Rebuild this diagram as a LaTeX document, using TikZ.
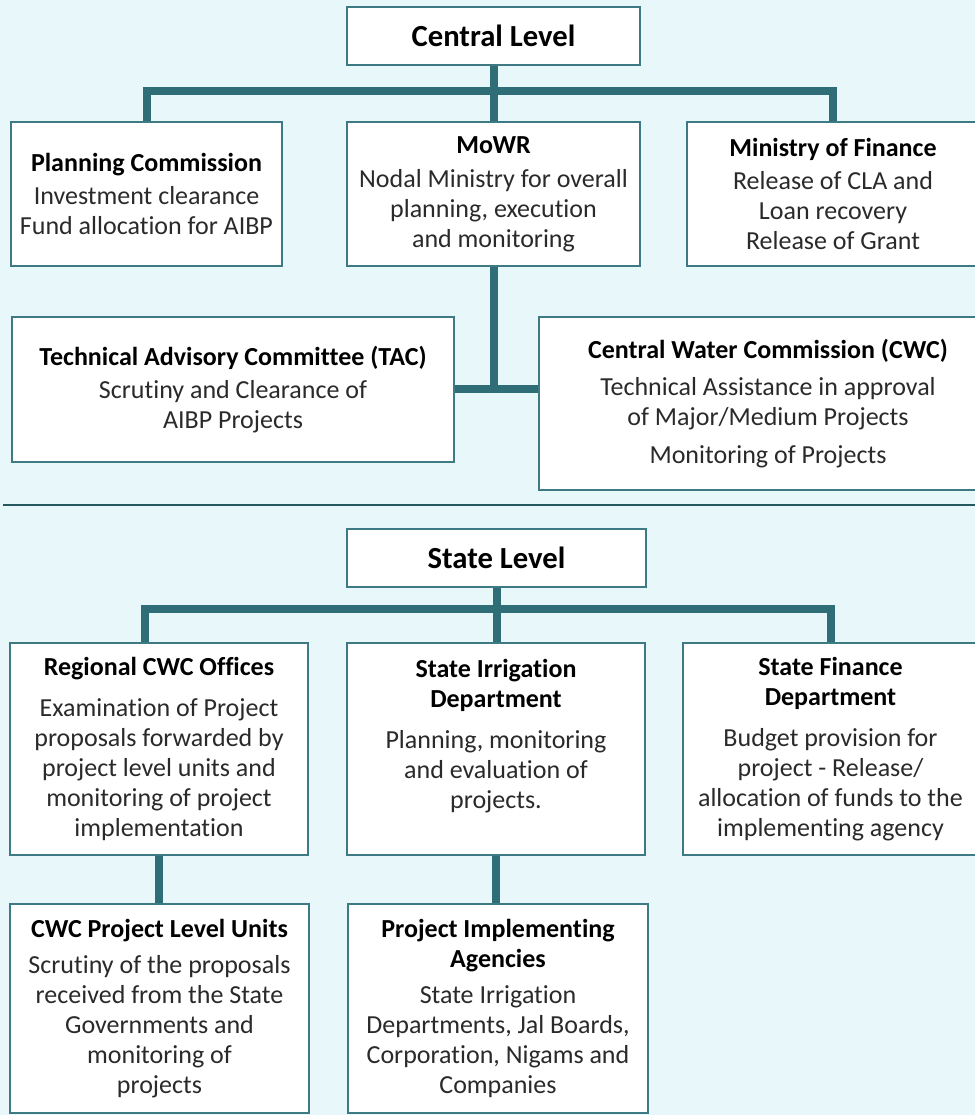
\documentclass[tikz,border=0pt]{standalone}
\usepackage{fontspec}
\setmainfont{Carlito}[Ligatures={NoCommon,NoRare,NoContextual}]
\usetikzlibrary{positioning}

\definecolor{bgcyan}{HTML}{E8F8FA}
\definecolor{tealline}{HTML}{2F6E77}
\definecolor{boxedge}{HTML}{3D7A84}
\definecolor{inktext}{HTML}{2A2A2A}

\tikzset{
  orgbox/.style={draw=boxedge, line width=1.4pt, fill=white, inner sep=0pt,
    align=center, text=inktext, font=\fontsize{19.5}{22.5}\selectfont},
  levelbox/.style={orgbox, font=\fontsize{23}{26}\selectfont\bfseries, text=black},
  boxsize/.style 2 args={minimum width=#1*0.75pt, minimum height=#2*0.75pt},
  link/.style={draw=tealline, line width=6pt},
  divider/.style={draw=tealline!80!black, line width=1.6pt}
}
\newcommand{\boxtitle}[1]{{\bfseries\color{black}#1}}

\begin{document}
\begin{tikzpicture}[x=0.75pt, y=-0.75pt]
  \useasboundingbox (0,0) rectangle (975,1115);
  \fill[bgcyan] (0,0) rectangle (975,1115);

  % central level
  \node[levelbox, boxsize={293}{58}] (central) at (493.5,36) {Central Level};
  \node[orgbox, boxsize={271}{144}] (plan) at (146.5,194)
    {\boxtitle{Planning Commission}\\[2pt] Investment clearance\\ Fund allocation for AIBP};
  \node[orgbox, boxsize={293}{144}] (mowr) at (493.5,194)
    {\boxtitle{MoWR}\\[3pt] Nodal Ministry for overall\\ planning, execution\\ and monitoring};
  \node[orgbox, boxsize={292}{144}] (fin) at (833,194)
    {\boxtitle{Ministry of Finance}\\[2pt] Release of CLA and\\ Loan recovery\\ Release of Grant};
  \node[orgbox, boxsize={442}{145}] (tac) at (233,389.5)
    {\boxtitle{Technical Advisory Committee (TAC)}\\[2pt] Scrutiny and Clearance of\\ AIBP Projects};
  \node[orgbox, boxsize={458}{173}] (cwc) at (768,403.5)
    {\boxtitle{Central Water Commission (CWC)}\\[5pt] Technical Assistance in approval\\
     of Major/Medium Projects\\[6pt] Monitoring of Projects};

  \draw[link] (plan.north) -- ++(0,-30) -| (fin.north);
  \draw[link] (central.south) -- (mowr.north);
  \draw[link] (mowr.south) -- ++(0,122) coordinate (mj);
  \draw[link] (tac.east |- mj) -- (cwc.west |- mj);

  \draw[divider] (3,505) -- (975,505);

  % state level
  \node[levelbox, boxsize={299}{58}] (state) at (496.5,558) {State Level};
  \node[orgbox, boxsize={298}{212}] (reg) at (159,749)
    {\boxtitle{Regional CWC Offices}\\[8pt] Examination of Project\\ proposals forwarded by\\
     project level units and\\ monitoring of project\\ implementation};
  \node[orgbox, boxsize={298}{212}] (sirr) at (496,749)
    {\boxtitle{State Irrigation}\\ \boxtitle{Department}\\[8pt] Planning, monitoring\\
     and evaluation of\\ projects.\\ \mbox{}};
  \node[orgbox, boxsize={295}{212}] (sfin) at (830.5,749)
    {\boxtitle{State Finance}\\ \boxtitle{Department}\\[8pt] Budget provision for\\
     project - Release/\\ allocation of funds to the\\ implementing agency};
  \node[orgbox, boxsize={299}{209}] (plu) at (159.5,1008.5)
    {\boxtitle{CWC Project Level Units}\\[4pt] Scrutiny of the proposals\\ received from the State\\
     Governments and\\ monitoring of\\ projects};
  \node[orgbox, boxsize={300}{209}] (pia) at (498,1008.5)
    {\boxtitle{Project Implementing}\\ \boxtitle{Agencies}\\[5pt] State Irrigation\\
     Departments, Jal Boards,\\ Corporation, Nigams and\\ Companies};

  \draw[link] ([xshift=-10.5pt]reg.north) -- ++(0,-33) -| (sfin.north);
  \draw[link] (state.south) -- (state.south |- sirr.north);
  \draw[link] (reg.south) -- (reg.south |- plu.north);
  \draw[link] (sirr.south) -- (sirr.south |- pia.north);
\end{tikzpicture}
\end{document}
